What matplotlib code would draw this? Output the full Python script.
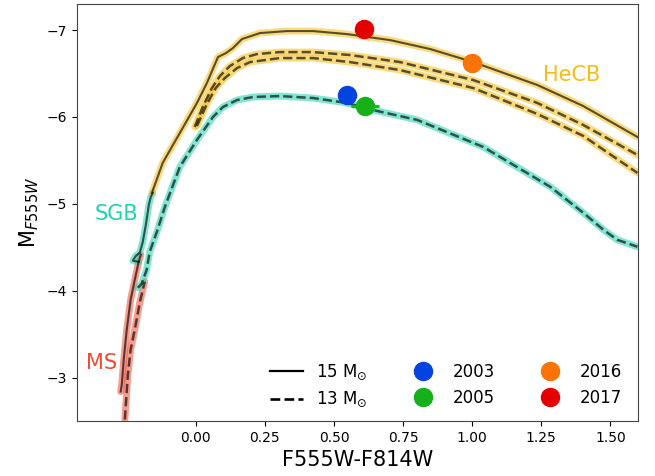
import numpy as np
import matplotlib
matplotlib.use("Agg")
import matplotlib.pyplot as plt
from matplotlib.lines import Line2D

# 15 Msun track (solid)
ms15_x = [-0.272, -0.268, -0.261, -0.250, -0.236, -0.221, -0.207, -0.199]
ms15_y = [-2.839, -2.920, -3.207, -3.552, -3.897, -4.126, -4.333, -4.414]
sgb15_x = [-0.207, -0.228, -0.217, -0.203, -0.192, -0.181, -0.170, -0.163, -0.156]
sgb15_y = [-4.333, -4.345, -4.402, -4.437, -4.563, -4.759, -4.989, -5.080, -5.126]
hecb15_x = [-0.159, -0.120, -0.058, 0.004, 0.040, 0.080, 0.109, 0.134, 0.167, 0.232,
            0.330, 0.424, 0.547, 0.703, 0.848, 1.004, 1.236, 1.402, 1.598]
hecb15_y = [-5.126, -5.471, -5.816, -6.161, -6.391, -6.690, -6.736, -6.793, -6.897, -6.966,
            -6.989, -6.989, -6.954, -6.885, -6.782, -6.632, -6.368, -6.126, -5.770]

# 13 Msun track (dashed)
ms13_x = [-0.257, -0.246, -0.236, -0.221, -0.203, -0.185]
ms13_y = [-2.517, -3.034, -3.322, -3.552, -3.862, -4.103]
sgb13_x = [-0.210, -0.196, -0.178, -0.167, -0.141, -0.112, -0.058, 0.004, 0.062, 0.098,
           0.149, 0.207, 0.304, 0.424, 0.547, 0.641, 0.801, 1.040, 1.283, 1.402,
           1.475, 1.525, 1.598]
sgb13_y = [-4.034, -4.080, -4.241, -4.448, -4.678, -4.966, -5.425, -5.736, -6.000, -6.115,
           -6.195, -6.230, -6.241, -6.218, -6.161, -6.080, -5.966, -5.655, -5.195, -4.897,
           -4.701, -4.586, -4.506]
hecb13a_x = [-0.004, 0.025, 0.058, 0.087, 0.123, 0.170, 0.221, 0.304, 0.424, 0.558,
             0.739, 1.004, 1.236, 1.402, 1.598]
hecb13a_y = [-5.885, -6.115, -6.333, -6.471, -6.586, -6.678, -6.724, -6.747, -6.747, -6.713,
             -6.632, -6.425, -6.161, -5.908, -5.563]
hecb13b_x = [0.004, 0.040, 0.072, 0.105, 0.149, 0.196, 0.304, 0.424, 0.558, 0.739,
             1.004, 1.236, 1.402, 1.598]
hecb13b_y = [-5.897, -6.149, -6.333, -6.448, -6.563, -6.632, -6.678, -6.678, -6.632, -6.540,
             -6.333, -6.034, -5.782, -5.356]

# observations
years = ["2003", "2005", "2016", "2017"]
obs_x = [0.547, 0.612, 1.000, 0.609]
obs_y = [-6.25, -6.13, -6.62, -7.01]
obs_c = ["#0343df", "#15b01a", "#f97306", "#e50000"]
green_xerr = 0.05

c_ms = "#f14b33"
c_sgb = "#1dd3b0"
c_hecb = "#f7bd12"

fig = plt.figure(figsize=(6.55, 4.76), dpi=100)
ax = fig.add_axes([0.1176, 0.1155, 0.8564, 0.876])


def track(x, y, col, ls):
    ax.plot(x, y, color=col, lw=5, alpha=0.55, solid_capstyle="round", zorder=2)
    ax.plot(x, y, color="k", lw=1.5 if ls == "-" else 1.8, ls=ls, alpha=0.65, zorder=3)


track(ms15_x, ms15_y, c_ms, "-")
track(sgb15_x, sgb15_y, c_sgb, "-")
track(hecb15_x, hecb15_y, c_hecb, "-")
track(ms13_x, ms13_y, c_ms, "--")
track(sgb13_x, sgb13_y, c_sgb, "--")
track(hecb13a_x, hecb13a_y, c_hecb, "--")
track(hecb13b_x, hecb13b_y, c_hecb, "--")

ax.errorbar(obs_x[1], obs_y[1], xerr=green_xerr, fmt="none", ecolor=obs_c[1], lw=2, zorder=4)
for xx, yy, cc in zip(obs_x, obs_y, obs_c):
    ax.plot(xx, yy, "o", color=cc, ms=13, zorder=5)

ax.text(1.359, -6.483, "HeCB", color=c_hecb, fontsize=15, ha="center", va="center")
ax.text(-0.288, -4.885, "SGB", color=c_sgb, fontsize=15, ha="center", va="center")
ax.text(-0.342, -3.172, "MS", color=c_ms, fontsize=15, ha="center", va="center")

ax.set_xlim(-0.43, 1.6)
ax.set_ylim(-2.5, -7.3)
ax.set_xticks([0.0, 0.25, 0.5, 0.75, 1.0, 1.25, 1.5])
ax.set_yticks([-7, -6, -5, -4, -3])
ax.set_xlabel("F555W-F814W", fontsize=15)
ax.set_ylabel(r"M$_{F555W}$", fontsize=15)
for s in ax.spines.values():
    s.set_color("#444444")

handles = [Line2D([], [], color="k", ls="-", lw=1.6),
           Line2D([], [], color="k", ls="--", lw=1.9)]
labels = [r"15 M$_{\odot}$", r"13 M$_{\odot}$"]
for yr, cc in zip(years, obs_c):
    handles.append(Line2D([], [], marker="o", ls="none", color=cc, ms=13))
    labels.append(yr)
ax.legend(handles, labels, ncol=3, loc="lower right", bbox_to_anchor=(0.993, 0),
          frameon=False, fontsize=12, columnspacing=2.3, borderaxespad=0.3)

fig.savefig("out.png", dpi=100)
